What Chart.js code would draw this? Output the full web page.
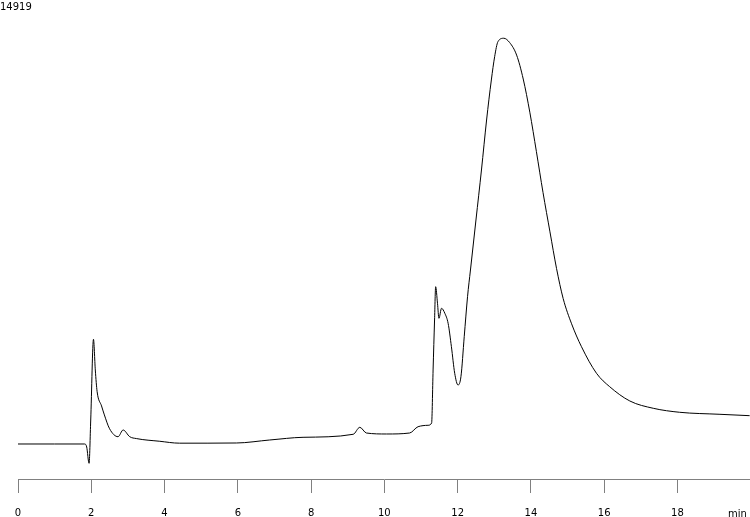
<!DOCTYPE html>
<html>
<head>
<meta charset="utf-8">
<script src="https://cdn.jsdelivr.net/npm/chart.js@4.4.0/dist/chart.umd.min.js"></script>
<style>
  html, body { margin: 0; padding: 0; background: #fff; }
  #wrap { width: 750px; height: 517px; position: relative; }
</style>
</head>
<body>
<div id="wrap"><canvas id="c"></canvas></div>
<script>
// Retention time (min)
const times = [0, 1.0, 1.82, 1.875, 1.94, 1.985, 2.06, 2.11, 2.16, 2.28, 2.35, 2.50, 2.73, 2.87, 3.05, 3.23, 3.87, 4.41,
  5.96, 6.87, 7.78, 9.15, 9.33, 9.51, 10.06, 10.69, 10.92, 11.19, 11.29, 11.33, 11.37, 11.40, 11.45, 11.49, 11.56,
  11.65, 11.74, 11.83, 11.92, 12.01, 12.09, 12.18, 12.27, 12.35, 12.50, 12.65, 12.79, 12.92, 13.01, 13.10, 13.26,
  13.42, 13.61, 13.79, 13.97, 14.15, 14.33, 14.52, 14.70, 14.88, 15.11, 15.38, 15.79, 16.15, 16.70, 17.34, 18.06,
  19.16, 19.97];
// Detector signal
const signal = [0, 0, 0, -110, -710, 882, 3850, 2721, 1923, 1400, 1100, 560, 268, 515, 268, 200, 100, 30,
  37, 147, 246, 357, 614, 404, 368, 404, 636, 688, 772, 2721, 4559, 5784, 5174, 4622, 4990,
  4806, 4438, 3578, 2600, 2169, 2475, 3946, 5416, 6398, 8236, 10075, 11913, 13384, 14241, 14793, 14919,
  14760, 14300, 13420, 12200, 10750, 9250, 7800, 6450, 5350, 4420, 3578, 2600, 2107, 1581, 1313, 1166,
  1092, 1041];
const tickValues = [0, 2, 4, 6, 8, 10, 12, 14, 16, 18];
const maxLabel = "14919";
const unitLabel = "min";

const points = times.map((t, i) => ({ x: t, y: signal[i] }));

const textPlugin = {
  id: 'texts',
  afterDraw(chart) {
    const ctx = chart.ctx;
    ctx.save();
    ctx.fillStyle = '#000';
    ctx.font = '10px "DejaVu Sans"';
    ctx.textBaseline = 'alphabetic';
    ctx.textAlign = 'left';
    ctx.fillText(maxLabel, 0, 10);
    ctx.fillText(unitLabel, 728, 516.5);
    ctx.restore();
  }
};

new Chart(document.getElementById('c'), {
  type: 'line',
  data: {
    datasets: [{
      data: points,
      borderColor: '#000',
      borderWidth: 1,
      pointRadius: 0,
      fill: false,
      cubicInterpolationMode: 'monotone'
    }]
  },
  options: {
    responsive: true,
    maintainAspectRatio: false,
    devicePixelRatio: 1,
    animation: false,
    layout: { padding: { top: 20, left: 18, right: 0, bottom: 0 } },
    plugins: { legend: { display: false }, tooltip: { enabled: false } },
    scales: {
      x: {
        type: 'linear',
        min: 0,
        max: 19.98,
        afterBuildTicks(scale) { scale.ticks = tickValues.map(v => ({ value: v })); },
        afterFit(scale) { scale.height = 38; },
        grid: { drawOnChartArea: false, drawTicks: true, tickLength: 14, color: '#808080', lineWidth: 1 },
        border: { display: true, color: '#808080', width: 1 },
        ticks: {
          color: '#000',
          font: { family: '"DejaVu Sans"', size: 10 },
          padding: 14,
          maxRotation: 0,
          autoSkip: false
        }
      },
      y: {
        display: false,
        min: -1287,
        max: 15590
      }
    }
  },
  plugins: [textPlugin]
});
</script>
</body>
</html>
